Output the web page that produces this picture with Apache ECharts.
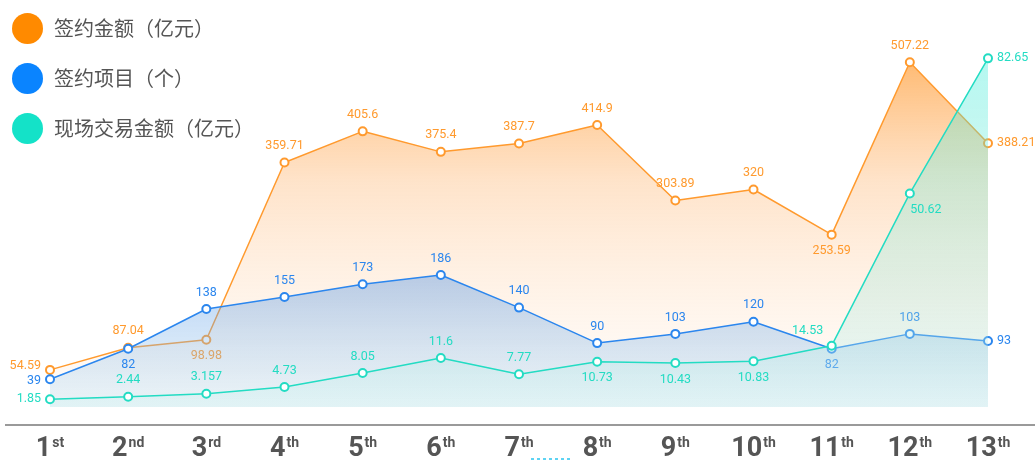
<!DOCTYPE html>
<html>
<head>
<meta charset="utf-8">
<script src="https://cdn.jsdelivr.net/npm/echarts@6/dist/echarts.min.js"></script>
<style>
  html, body { margin: 0; padding: 0; background: #fff; }
  #chart { width: 1035px; height: 461px; }
</style>
</head>
<body>
<div id="chart"></div>
<script>
// categories (number + ordinal suffix)
const dayNums = ['1', '2', '3', '4', '5', '6', '7', '8', '9', '10', '11', '12', '13'];
const daySuffix = ['st', 'nd', 'rd', 'th', 'th', 'th', 'th', 'th', 'th', 'th', 'th', 'th', 'th'];

const seriesNames = ['签约金额（亿元）', '签约项目（个）', '现场交易金额（亿元）'];
const contractAmount = [54.59, 87.04, 98.98, 359.71, 405.6, 375.4, 387.7, 414.9, 303.89, 320, 253.59, 507.22, 388.21];
const contractProjects = [39, 82, 138, 155, 173, 186, 140, 90, 103, 120, 82, 103, 93];
const onsiteAmount = [1.85, 2.44, 3.157, 4.73, 8.05, 11.6, 7.77, 10.73, 10.43, 10.83, 14.53, 50.62, 82.65];

const colors = ['#ff9a2e', '#2b86ee', '#23dcc3'];
const legendColors = ['#ff8a00', '#0a84ff', '#14e2c8'];

// where each point label sits
const amountPos = ['left', 'top', 'bottom', 'top', 'top', 'top', 'top', 'top', 'top', 'top', 'bottom', 'top', 'right'];
const projectPos = ['left', 'bottom', 'top', 'top', 'top', 'top', 'top', 'top', 'top', 'top', 'bottom', 'top', 'right'];
const onsitePos = ['left', 'top', 'top', 'top', 'top', 'top', 'top', 'bottom', 'bottom', 'bottom', 'top', 'bottom', 'right'];
// a few labels are nudged so they don't collide
const amountNudge = { 0: [0, -4] };
const projectNudge = { 0: [0, 2] };
const onsiteNudge = { 10: [-24, 2], 11: [16, 0] };

const labelFont = '"Roboto", "Noto Sans", sans-serif';
const axisFont = '"Roboto", "Noto Sans", sans-serif';

function buildData(values, positions, nudge) {
  return values.map((v, i) => {
    const side = positions[i] === 'left' || positions[i] === 'right';
    const label = { position: positions[i], distance: side ? 4 : 5 };
    if (nudge && nudge[i]) label.offset = nudge[i];
    return { value: v, label: label };
  });
}

function makeSeries(idx, values, positions, nudge, gradient) {
  return {
    name: seriesNames[idx],
    type: 'line',
    yAxisIndex: idx,
    data: buildData(values, positions, nudge),
    symbol: 'emptyCircle',
    symbolSize: 8,
    clip: false,
    itemStyle: { color: colors[idx], borderWidth: 1.5 },
    lineStyle: { color: colors[idx], width: 1.5 },
    label: {
      show: true,
      color: colors[idx],
      fontSize: 12.5,
      fontFamily: labelFont
    },
    areaStyle: {
      color: new echarts.graphic.LinearGradient(0, 0, 0, 1, gradient)
    },
    z: 2 + idx
  };
}

const chart = echarts.init(document.getElementById('chart'));

const option = {
  animation: false,
  legend: {
    orient: 'vertical',
    left: 7,
    top: 8,
    itemWidth: 31,
    itemHeight: 31,
    itemGap: 19,
    icon: 'circle',
    data: seriesNames.map((n, i) => ({ name: n, itemStyle: { color: legendColors[i] } })),
    textStyle: {
      color: '#555',
      fontSize: 20,
      fontFamily: '"Noto Sans CJK SC", sans-serif',
      padding: [0, 0, 0, 6]
    }
  },
  grid: {
    left: 50,
    right: 47,
    top: 40,
    bottom: 54,
    outerBoundsMode: 'none'
  },
  xAxis: {
    type: 'category',
    boundaryGap: false,
    data: dayNums.map((n, i) => n + '|' + daySuffix[i]),
    axisLine: { show: false },
    axisTick: { show: false },
    splitLine: { show: false },
    axisLabel: {
      margin: 29,
      formatter: function (val) {
        const parts = val.split('|');
        return '{n|' + parts[0] + '}{s|' + parts[1] + '}';
      },
      rich: {
        n: { fontSize: 27, fontWeight: 'bold', color: '#555', fontFamily: axisFont, verticalAlign: 'bottom' },
        s: { fontSize: 14, fontWeight: 'bold', color: '#555', fontFamily: axisFont, verticalAlign: 'top', padding: [0, 0, 12, 1] }
      }
    }
  },
  yAxis: [
    { type: 'value', min: 0, max: 540, show: false },
    { type: 'value', min: 0, max: 517, show: false },
    { type: 'value', min: 0, max: 87, show: false }
  ],
  graphic: [
    {
      type: 'line',
      shape: { x1: 5, y1: 425, x2: 1035, y2: 425 },
      style: { stroke: '#9a9a9a', lineWidth: 2 }
    },
    {
      type: 'line',
      shape: { x1: 531, y1: 459, x2: 573, y2: 459 },
      style: { stroke: '#29c5f0', lineWidth: 1.5, lineDash: [3, 3] }
    }
  ],
  series: [
    makeSeries(0, contractAmount, amountPos, amountNudge, [
      { offset: 0, color: 'rgba(255,140,20,0.85)' },
      { offset: 0.35, color: 'rgba(254,190,130,0.6)' },
      { offset: 1, color: 'rgba(255,240,228,0.25)' }
    ]),
    makeSeries(1, contractProjects, projectPos, projectNudge, [
      { offset: 0, color: 'rgba(70,140,228,0.55)' },
      { offset: 1, color: 'rgba(185,222,240,0.4)' }
    ]),
    makeSeries(2, onsiteAmount, onsitePos, onsiteNudge, [
      { offset: 0, color: 'rgba(60,235,215,0.55)' },
      { offset: 0.7, color: 'rgba(160,230,220,0.4)' },
      { offset: 1, color: 'rgba(210,242,242,0.55)' }
    ])
  ]
};

chart.setOption(option);
</script>
</body>
</html>
